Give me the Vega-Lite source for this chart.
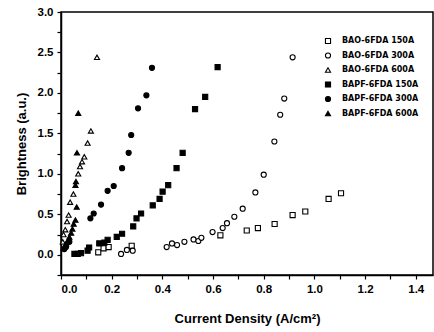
{
  "$schema": "https://vega.github.io/schema/vega-lite/v6.json",
  "width": 372,
  "height": 263,
  "autosize": "none",
  "padding": {"left": 61, "top": 12, "right": 1, "bottom": 57},
  "background": "white",
  "config": {
    "font": "Liberation Sans",
    "view": {"stroke": "black", "strokeWidth": 1.5},
    "axis": {
      "grid": false,
      "domainColor": "black",
      "domainWidth": 1.5,
      "tickColor": "black",
      "tickWidth": 1.2,
      "tickSize": 4,
      "labelFont": "Liberation Sans",
      "labelFontWeight": "bold",
      "labelFontSize": 11.5,
      "labelColor": "black",
      "titleFont": "Liberation Sans",
      "titleFontWeight": "bold",
      "titleFontSize": 13,
      "titleColor": "black"
    }
  },
  "data": {
    "values": [
      {"series": "BAO-6FDA 150A", "current": 0.147, "brightness": 0.03},
      {"series": "BAO-6FDA 150A", "current": 0.168, "brightness": 0.08},
      {"series": "BAO-6FDA 150A", "current": 0.188, "brightness": 0.095},
      {"series": "BAO-6FDA 150A", "current": 0.279, "brightness": 0.11},
      {"series": "BAO-6FDA 150A", "current": 0.629, "brightness": 0.24},
      {"series": "BAO-6FDA 150A", "current": 0.733, "brightness": 0.30},
      {"series": "BAO-6FDA 150A", "current": 0.777, "brightness": 0.33},
      {"series": "BAO-6FDA 150A", "current": 0.843, "brightness": 0.38},
      {"series": "BAO-6FDA 150A", "current": 0.914, "brightness": 0.49},
      {"series": "BAO-6FDA 150A", "current": 0.964, "brightness": 0.535},
      {"series": "BAO-6FDA 150A", "current": 1.056, "brightness": 0.69},
      {"series": "BAO-6FDA 150A", "current": 1.105, "brightness": 0.76},
      {"series": "BAO-6FDA 300A", "current": 0.237, "brightness": 0.01},
      {"series": "BAO-6FDA 300A", "current": 0.26, "brightness": 0.06},
      {"series": "BAO-6FDA 300A", "current": 0.283, "brightness": 0.05},
      {"series": "BAO-6FDA 300A", "current": 0.417, "brightness": 0.095},
      {"series": "BAO-6FDA 300A", "current": 0.438, "brightness": 0.14},
      {"series": "BAO-6FDA 300A", "current": 0.458, "brightness": 0.12},
      {"series": "BAO-6FDA 300A", "current": 0.487, "brightness": 0.16},
      {"series": "BAO-6FDA 300A", "current": 0.523, "brightness": 0.19},
      {"series": "BAO-6FDA 300A", "current": 0.542, "brightness": 0.17},
      {"series": "BAO-6FDA 300A", "current": 0.554, "brightness": 0.21},
      {"series": "BAO-6FDA 300A", "current": 0.598, "brightness": 0.28},
      {"series": "BAO-6FDA 300A", "current": 0.638, "brightness": 0.33},
      {"series": "BAO-6FDA 300A", "current": 0.655, "brightness": 0.39},
      {"series": "BAO-6FDA 300A", "current": 0.684, "brightness": 0.47},
      {"series": "BAO-6FDA 300A", "current": 0.717, "brightness": 0.57},
      {"series": "BAO-6FDA 300A", "current": 0.767, "brightness": 0.77},
      {"series": "BAO-6FDA 300A", "current": 0.80, "brightness": 0.99},
      {"series": "BAO-6FDA 300A", "current": 0.842, "brightness": 1.40},
      {"series": "BAO-6FDA 300A", "current": 0.865, "brightness": 1.73},
      {"series": "BAO-6FDA 300A", "current": 0.881, "brightness": 1.93},
      {"series": "BAO-6FDA 300A", "current": 0.914, "brightness": 2.44},
      {"series": "BAO-6FDA 600A", "current": 0.007, "brightness": 0.16},
      {"series": "BAO-6FDA 600A", "current": 0.010, "brightness": 0.25},
      {"series": "BAO-6FDA 600A", "current": 0.017, "brightness": 0.31},
      {"series": "BAO-6FDA 600A", "current": 0.024, "brightness": 0.41},
      {"series": "BAO-6FDA 600A", "current": 0.030, "brightness": 0.49},
      {"series": "BAO-6FDA 600A", "current": 0.036, "brightness": 0.65},
      {"series": "BAO-6FDA 600A", "current": 0.049, "brightness": 0.75},
      {"series": "BAO-6FDA 600A", "current": 0.068, "brightness": 1.00},
      {"series": "BAO-6FDA 600A", "current": 0.075, "brightness": 1.09},
      {"series": "BAO-6FDA 600A", "current": 0.083, "brightness": 1.15},
      {"series": "BAO-6FDA 600A", "current": 0.092, "brightness": 1.21},
      {"series": "BAO-6FDA 600A", "current": 0.105, "brightness": 1.38},
      {"series": "BAO-6FDA 600A", "current": 0.118, "brightness": 1.53},
      {"series": "BAO-6FDA 600A", "current": 0.142, "brightness": 2.44},
      {"series": "BAPF-6FDA 150A", "current": 0.053, "brightness": 0.01},
      {"series": "BAPF-6FDA 150A", "current": 0.066, "brightness": 0.01},
      {"series": "BAPF-6FDA 150A", "current": 0.079, "brightness": 0.02},
      {"series": "BAPF-6FDA 150A", "current": 0.105, "brightness": 0.05},
      {"series": "BAPF-6FDA 150A", "current": 0.111, "brightness": 0.09},
      {"series": "BAPF-6FDA 150A", "current": 0.151, "brightness": 0.14},
      {"series": "BAPF-6FDA 150A", "current": 0.171, "brightness": 0.15},
      {"series": "BAPF-6FDA 150A", "current": 0.184, "brightness": 0.185},
      {"series": "BAPF-6FDA 150A", "current": 0.22, "brightness": 0.22},
      {"series": "BAPF-6FDA 150A", "current": 0.241, "brightness": 0.26},
      {"series": "BAPF-6FDA 150A", "current": 0.285, "brightness": 0.35},
      {"series": "BAPF-6FDA 150A", "current": 0.298, "brightness": 0.45},
      {"series": "BAPF-6FDA 150A", "current": 0.316, "brightness": 0.51},
      {"series": "BAPF-6FDA 150A", "current": 0.362, "brightness": 0.61},
      {"series": "BAPF-6FDA 150A", "current": 0.389, "brightness": 0.69},
      {"series": "BAPF-6FDA 150A", "current": 0.401, "brightness": 0.78},
      {"series": "BAPF-6FDA 150A", "current": 0.423, "brightness": 0.86},
      {"series": "BAPF-6FDA 150A", "current": 0.456, "brightness": 1.07},
      {"series": "BAPF-6FDA 150A", "current": 0.48, "brightness": 1.26},
      {"series": "BAPF-6FDA 150A", "current": 0.529, "brightness": 1.80},
      {"series": "BAPF-6FDA 150A", "current": 0.569, "brightness": 1.95},
      {"series": "BAPF-6FDA 150A", "current": 0.618, "brightness": 2.32},
      {"series": "BAPF-6FDA 300A", "current": 0.013, "brightness": 0.07},
      {"series": "BAPF-6FDA 300A", "current": 0.020, "brightness": 0.10},
      {"series": "BAPF-6FDA 300A", "current": 0.033, "brightness": 0.16},
      {"series": "BAPF-6FDA 300A", "current": 0.116, "brightness": 0.45},
      {"series": "BAPF-6FDA 300A", "current": 0.129, "brightness": 0.51},
      {"series": "BAPF-6FDA 300A", "current": 0.158, "brightness": 0.62},
      {"series": "BAPF-6FDA 300A", "current": 0.184, "brightness": 0.79},
      {"series": "BAPF-6FDA 300A", "current": 0.208, "brightness": 0.85},
      {"series": "BAPF-6FDA 300A", "current": 0.241, "brightness": 1.07},
      {"series": "BAPF-6FDA 300A", "current": 0.267, "brightness": 1.26},
      {"series": "BAPF-6FDA 300A", "current": 0.277, "brightness": 1.48},
      {"series": "BAPF-6FDA 300A", "current": 0.304, "brightness": 1.81},
      {"series": "BAPF-6FDA 300A", "current": 0.337, "brightness": 1.97},
      {"series": "BAPF-6FDA 300A", "current": 0.359, "brightness": 2.31},
      {"series": "BAPF-6FDA 600A", "current": 0.010, "brightness": 0.08},
      {"series": "BAPF-6FDA 600A", "current": 0.015, "brightness": 0.10},
      {"series": "BAPF-6FDA 600A", "current": 0.020, "brightness": 0.14},
      {"series": "BAPF-6FDA 600A", "current": 0.028, "brightness": 0.18},
      {"series": "BAPF-6FDA 600A", "current": 0.033, "brightness": 0.22},
      {"series": "BAPF-6FDA 600A", "current": 0.040, "brightness": 0.27},
      {"series": "BAPF-6FDA 600A", "current": 0.045, "brightness": 0.32},
      {"series": "BAPF-6FDA 600A", "current": 0.050, "brightness": 0.38},
      {"series": "BAPF-6FDA 600A", "current": 0.057, "brightness": 0.43},
      {"series": "BAPF-6FDA 600A", "current": 0.062, "brightness": 0.59},
      {"series": "BAPF-6FDA 600A", "current": 0.057, "brightness": 0.86},
      {"series": "BAPF-6FDA 600A", "current": 0.059, "brightness": 0.905},
      {"series": "BAPF-6FDA 600A", "current": 0.063, "brightness": 1.26},
      {"series": "BAPF-6FDA 600A", "current": 0.068, "brightness": 1.75}
    ]
  },
  "mark": {"type": "point", "filled": true, "stroke": "black", "strokeWidth": 1.1, "size": 26, "opacity": 1},
  "encoding": {
    "x": {
      "field": "current",
      "type": "quantitative",
      "scale": {"domain": [0, 1.468], "nice": false, "zero": false},
      "axis": {
        "title": "Current Density (A/cm²)",
        "values": [0, 0.1, 0.2, 0.3, 0.4, 0.5, 0.6, 0.7, 0.8, 0.9, 1.0, 1.1, 1.2, 1.3, 1.4],
        "labelExpr": "round(datum.value * 10) % 2 == 0 ? format(datum.value, '.1f') : ''",
        "labelPadding": 4,
        "titlePadding": 18
      }
    },
    "y": {
      "field": "brightness",
      "type": "quantitative",
      "scale": {"domain": [-0.25, 3.0], "nice": false, "zero": false},
      "axis": {
        "title": "Brightness (a.u.)",
        "values": [-0.25, 0, 0.25, 0.5, 0.75, 1.0, 1.25, 1.5, 1.75, 2.0, 2.25, 2.5, 2.75, 3.0],
        "labelExpr": "datum.value >= 0 && round(datum.value * 4) % 2 == 0 ? format(datum.value, '.1f') : ''",
        "labelPadding": 4,
        "titlePadding": 9
      }
    },
    "shape": {
      "field": "series",
      "type": "nominal",
      "scale": {
        "domain": ["BAO-6FDA 150A", "BAO-6FDA 300A", "BAO-6FDA 600A", "BAPF-6FDA 150A", "BAPF-6FDA 300A", "BAPF-6FDA 600A"],
        "range": ["square", "circle", "triangle-up", "square", "circle", "triangle-up"]
      },
      "legend": {
        "title": null,
        "orient": "none",
        "legendX": 263,
        "legendY": 25,
        "labelFont": "DejaVu Sans",
        "labelFontWeight": "bold",
        "labelFontSize": 8,
        "labelColor": "black",
        "symbolSize": 26,
        "symbolStrokeWidth": 1.1,
        "rowPadding": 4.5,
        "labelOffset": 10,
        "encode": {"symbols": {"update": {"stroke": {"value": "black"}, "strokeWidth": {"value": 1.1}}}}
      }
    },
    "fill": {
      "field": "series",
      "type": "nominal",
      "scale": {
        "domain": ["BAO-6FDA 150A", "BAO-6FDA 300A", "BAO-6FDA 600A", "BAPF-6FDA 150A", "BAPF-6FDA 300A", "BAPF-6FDA 600A"],
        "range": ["white", "white", "white", "black", "black", "black"]
      },
      "legend": {
        "title": null,
        "orient": "none",
        "legendX": 263,
        "legendY": 25,
        "labelFont": "DejaVu Sans",
        "labelFontWeight": "bold",
        "labelFontSize": 8,
        "labelColor": "black",
        "symbolSize": 26,
        "symbolStrokeWidth": 1.1,
        "rowPadding": 4.5,
        "labelOffset": 10,
        "encode": {"symbols": {"update": {"stroke": {"value": "black"}, "strokeWidth": {"value": 1.1}}}}
      }
    }
  }
}
